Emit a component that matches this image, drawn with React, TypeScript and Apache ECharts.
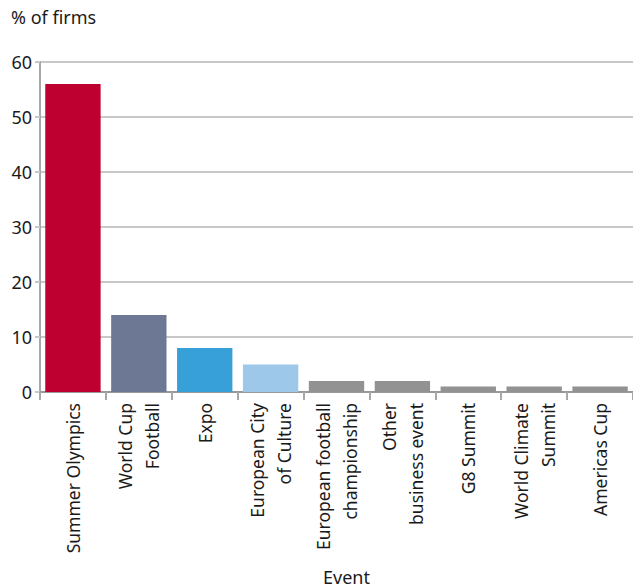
import React, { useEffect, useRef } from "react";
import * as echarts from "echarts";

const categories = [
  "Summer Olympics",
  "World Cup\nFootball",
  "Expo",
  "European City\nof Culture",
  "European football\nchampionship",
  "Other\nbusiness event",
  "G8 Summit",
  "World Climate\nSummit",
  "Americas Cup",
];
const values = [56, 14, 8, 5, 2, 2, 1, 1, 1];
const barColors = [
  "#be0030",
  "#6d7894",
  "#38a0d8",
  "#9ec8ea",
  "#929292",
  "#929292",
  "#929292",
  "#929292",
  "#929292",
];
const yTicks = { min: 0, max: 60, interval: 10 };
const yAxisTitle = "% of firms";
const xAxisTitle = "Event";

const FONT = "'Noto Sans', sans-serif";

export default function App() {
  const ref = useRef<HTMLDivElement>(null);
  useEffect(() => {
    if (!ref.current) return;
    const chart = echarts.init(ref.current, undefined, { renderer: "svg" });
    chart.setOption({
      animation: false,
      textStyle: { fontFamily: FONT },
      grid: {
        left: 40,
        right: 0,
        top: 62,
        bottom: 196,
        containLabel: false,
        outerBoundsMode: "none",
      },
      title: {
        text: yAxisTitle,
        left: 11,
        top: 8,
        padding: 0,
        textStyle: { fontFamily: FONT, fontSize: 18, fontWeight: "normal", color: "#1a1a1a" },
      },
      xAxis: {
        type: "category",
        data: categories,
        name: xAxisTitle,
        nameLocation: "middle",
        nameGap: 176,
        nameTextStyle: { fontFamily: FONT, fontSize: 18, color: "#1a1a1a", padding: [0, 0, 0, 20] },
        axisLine: { show: true, lineStyle: { color: "#999999", width: 2 } },
        axisTick: { show: true, length: 8, alignWithLabel: false, lineStyle: { color: "#a8a8a8", width: 2 } },
        axisLabel: {
          rotate: 90,
          interval: 0,
          margin: 11,
          fontFamily: FONT,
          fontSize: 17.5,
          lineHeight: 27,
          color: "#1a1a1a",
        },
      },
      yAxis: {
        type: "value",
        min: yTicks.min,
        max: yTicks.max,
        interval: yTicks.interval,
        axisLine: { show: true, lineStyle: { color: "#a8a8a8", width: 2 } },
        axisTick: { show: true, length: 5, lineStyle: { color: "#c8c8c8", width: 2 } },
        splitLine: { show: true, lineStyle: { color: "#c8c8c8", width: 2 } },
        axisLabel: { margin: 8, fontFamily: FONT, fontSize: 18, color: "#1a1a1a" },
      },
      series: [
        {
          type: "bar",
          data: values.map((v, i) => ({ value: v, itemStyle: { color: barColors[i] } })),
          barCategoryGap: "16%",
        },
      ],
    });
    return () => chart.dispose();
  }, []);
  return (
    <div
      ref={ref}
      style={{ position: "absolute", left: 0, top: 0, width: 633, height: 588 }}
    />
  );
}
